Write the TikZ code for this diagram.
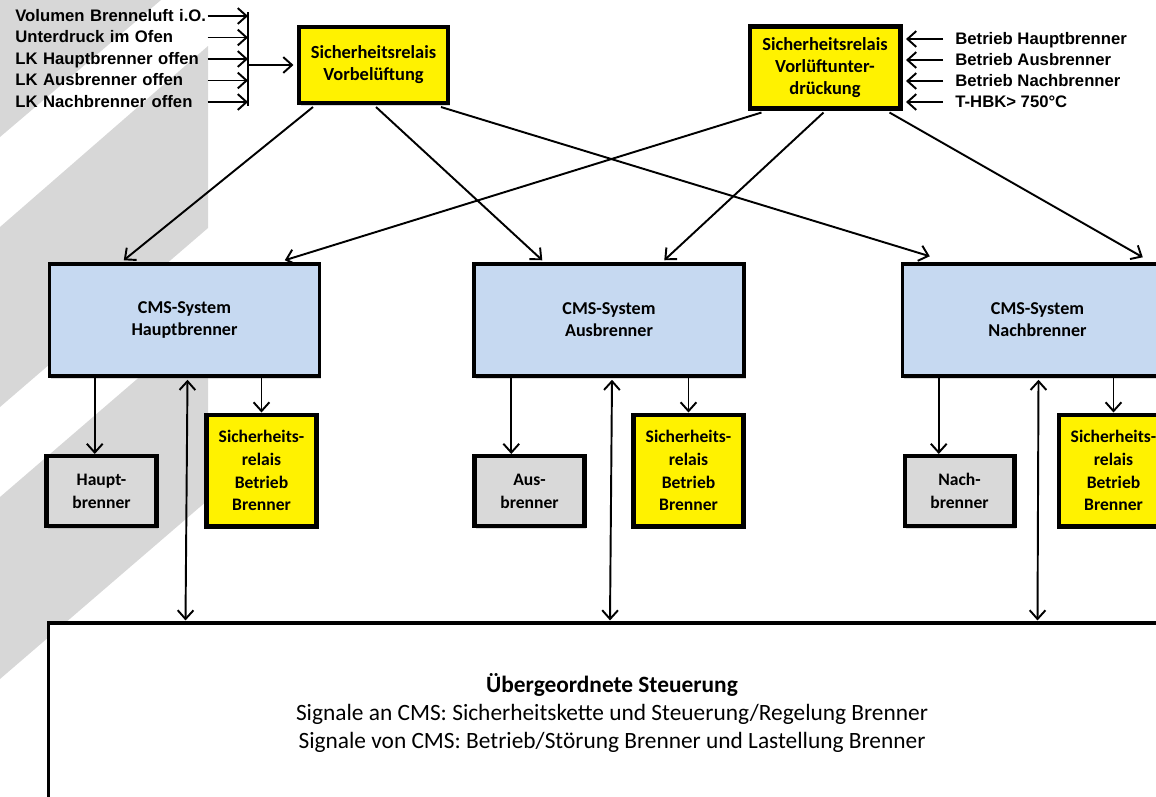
\documentclass[tikz,border=0pt]{standalone}
\usepackage{fontspec}
\setmainfont{Carlito}
\newfontfamily\labelfont{Liberation Sans}
\usetikzlibrary{arrows.meta,calc,shadows}

\definecolor{cmsblue}{HTML}{C6D9F1}
\definecolor{boxgrey}{HTML}{D9D9D9}
\definecolor{bandgrey}{HTML}{D7D7D7}

\begin{document}
\begin{tikzpicture}[x=0.02cm,y=-0.02cm,
	box/.style={draw,line width=2.3pt,align=center,inner sep=0pt,
		font=\bfseries\fontsize{10}{12.5}\selectfont,
		drop shadow={shadow xshift=1pt,shadow yshift=-1.5pt,opacity=0.3}},
	relais/.style={box,fill=yellow},
	cms/.style={box,fill=cmsblue,line width=2pt,minimum width=5.4cm,minimum height=2.24cm,
		font=\bfseries\fontsize{10.3}{12.5}\selectfont},
	brenner/.style={box,fill=boxgrey,minimum width=2.2cm,minimum height=1.4cm,
		font=\bfseries\fontsize{10}{13}\selectfont},
	srbox/.style={relais,minimum width=2.2cm,minimum height=2.24cm,
		font=\bfseries\fontsize{10}{13}\selectfont},
	steuer/.style={draw,line width=1.8pt,fill=white,align=center,
		minimum width=22.56cm,minimum height=3.6cm,
		font=\fontsize{13.3}{16}\selectfont},
	insignal/.style={anchor=west,inner sep=0pt,text width=3.84cm,align=left,
		text height=8pt,text depth=2pt,font=\labelfont\bfseries\fontsize{9.5}{11}\selectfont},
	outsignal/.style={anchor=west,inner xsep=0.24cm,inner ysep=0pt,
		text height=8pt,text depth=2pt,font=\labelfont\bfseries\fontsize{9.5}{11}\selectfont},
	arr/.style={-{Straight Barb[length=5pt,width=9pt]},line width=1.1pt},
	darr/.style={{Straight Barb[length=5pt,width=9pt]}-{Straight Barb[length=5pt,width=9pt]},line width=1.1pt}]

\useasboundingbox (0,0) rectangle (1156,796);
\clip (0,0) rectangle (1156,796);

% background stripes
\fill[bandgrey] (0,0) -- (161,0) -- (0,137) -- cycle;
\fill[bandgrey] (0,227) -- (208,46) -- (208,228) -- (0,407) -- cycle;
\fill[bandgrey] (0,497) -- (208,318) -- (208,500) -- (0,679) -- cycle;

% safety relays
\node[relais,minimum width=2.98cm,minimum height=1.52cm,font=\bfseries\fontsize{10.5}{12.5}\selectfont]
	(relVor) at (373.5,65) {Sicherheitsrelais\\Vorbelüftung};
\node[relais,minimum width=3.02cm,minimum height=1.64cm,font=\bfseries\fontsize{10.5}{12.5}\selectfont]
	(relUnt) at (825,67.5) {Sicherheitsrelais\\Vorlüftunter-\\drückung};

% input signals
\node[insignal] (volumen) at (15,16) {Volumen Brenneluft i.O.};
\node[insignal] (unterdruck) at (15,37.5) {Unterdruck im Ofen};
\node[insignal] (lkHaupt) at (15,59) {LK Hauptbrenner offen};
\node[insignal] (lkAus) at (15,80.5) {LK Ausbrenner offen};
\node[insignal] (lkNach) at (15,102) {LK Nachbrenner offen};
\coordinate (barTop) at (248,12);
\coordinate (barBot) at (248,106);

\node[outsignal] (betrHaupt) at (943,39) {Betrieb Hauptbrenner};
\node[outsignal] (betrAus) at (943,60) {Betrieb Ausbrenner};
\node[outsignal] (betrNach) at (943,81) {Betrieb Nachbrenner};
\node[outsignal] (thbk) at (943,102) {T-HBK> 750°C};

% CMS systems
\node[cms] (cmsHaupt) at (184.5,320) {CMS-System\\Hauptbrenner};
\node[cms] (cmsAus) at (609,320) {CMS-System\\Ausbrenner};
\node[cms] (cmsNach) at (1037.5,320) {CMS-System\\Nachbrenner};

% burners
\node[brenner] (haupt) at (101.5,491) {Haupt-\\brenner};
\node[brenner] (aus) at (529.5,491) {Aus-\\brenner};
\node[brenner] (nach) at (959.5,491) {Nach-\\brenner};

\node[srbox] (srHaupt) at (261.5,470.5) {Sicherheits-\\relais\\Betrieb\\Brenner};
\node[srbox] (srAus) at (688.5,470.5) {Sicherheits-\\relais\\Betrieb\\Brenner};
\node[srbox] (srNach) at (1113.5,470.5) {Sicherheits-\\relais\\Betrieb\\Brenner};

% control
\node[steuer] (steuer) at (612,713)
	{\textbf{Übergeordnete Steuerung}\\
	Signale an CMS: Sicherheitskette und Steuerung/Regelung Brenner\\
	Signale von CMS: Betrieb/Störung Brenner und Lastellung Brenner};

\draw[line width=1.2pt] (barTop) -- (barBot);
\path[arr]
(volumen.east) edge (volumen.east -| barTop)
(unterdruck.east) edge (unterdruck.east -| barTop)
(lkHaupt.east) edge (lkHaupt.east -| barTop)
(lkAus.east) edge (lkAus.east -| barTop)
(lkNach.east) edge (lkNach.east -| barTop)
(barTop |- relVor.west) edge[shorten >=2pt] (relVor.west);

\path[arr,shorten >=2pt]
(betrHaupt.west) edge (betrHaupt.west -| relUnt.east)
(betrAus.west) edge (betrAus.west -| relUnt.east)
(betrNach.west) edge (betrNach.west -| relUnt.east)
(thbk.west) edge (thbk.west -| relUnt.east);

\path[arr]
($(relVor.south west)+(16,2)$) edge ($(cmsHaupt.north west)+(76,-2)$)
($(relVor.south west)+(79,2)$) edge ($(cmsAus.north west)+(70,-2)$)
($(relVor.south west)+(144,2)$) edge ($(cmsNach.north west)+(29,-6)$)
($(relUnt.south west)+(14,2)$) edge ($(cmsHaupt.north west)+(237,-2)$)
($(relUnt.south west)+(76,2)$) edge ($(cmsAus.north west)+(192,-2)$)
($(relUnt.south west)+(142,2)$) edge ($(cmsNach.north west)+(242,-5)$);

\draw[arr] ($(cmsHaupt.south west)+(47,0)$) coordinate (h1) -- (h1 |- haupt.north);
\draw[arr] ($(cmsAus.south west)+(39,0)$) coordinate (a1) -- (a1 |- aus.north);
\draw[arr] ($(cmsNach.south west)+(38,0)$) coordinate (n1) -- (n1 |- nach.north);
\draw[arr] (cmsHaupt.south -| srHaupt.north) -- (srHaupt.north);
\draw[arr] (cmsAus.south -| srAus.north) -- (srAus.north);
\draw[arr] (cmsNach.south -| srNach.north) -- (srNach.north);

\draw[darr] ($(cmsHaupt.south)+(3,2)$) -- ($(cmsHaupt.south |- steuer.north)+(1,-1)$);
\draw[darr] ($(cmsAus.south)+(3,2)$) -- ($(cmsAus.south |- steuer.north)+(1,-1)$);
\draw[darr] ($(cmsNach.south)+(1,2)$) -- ($(cmsNach.south |- steuer.north)+(0,-1)$);
\end{tikzpicture}
\end{document}
